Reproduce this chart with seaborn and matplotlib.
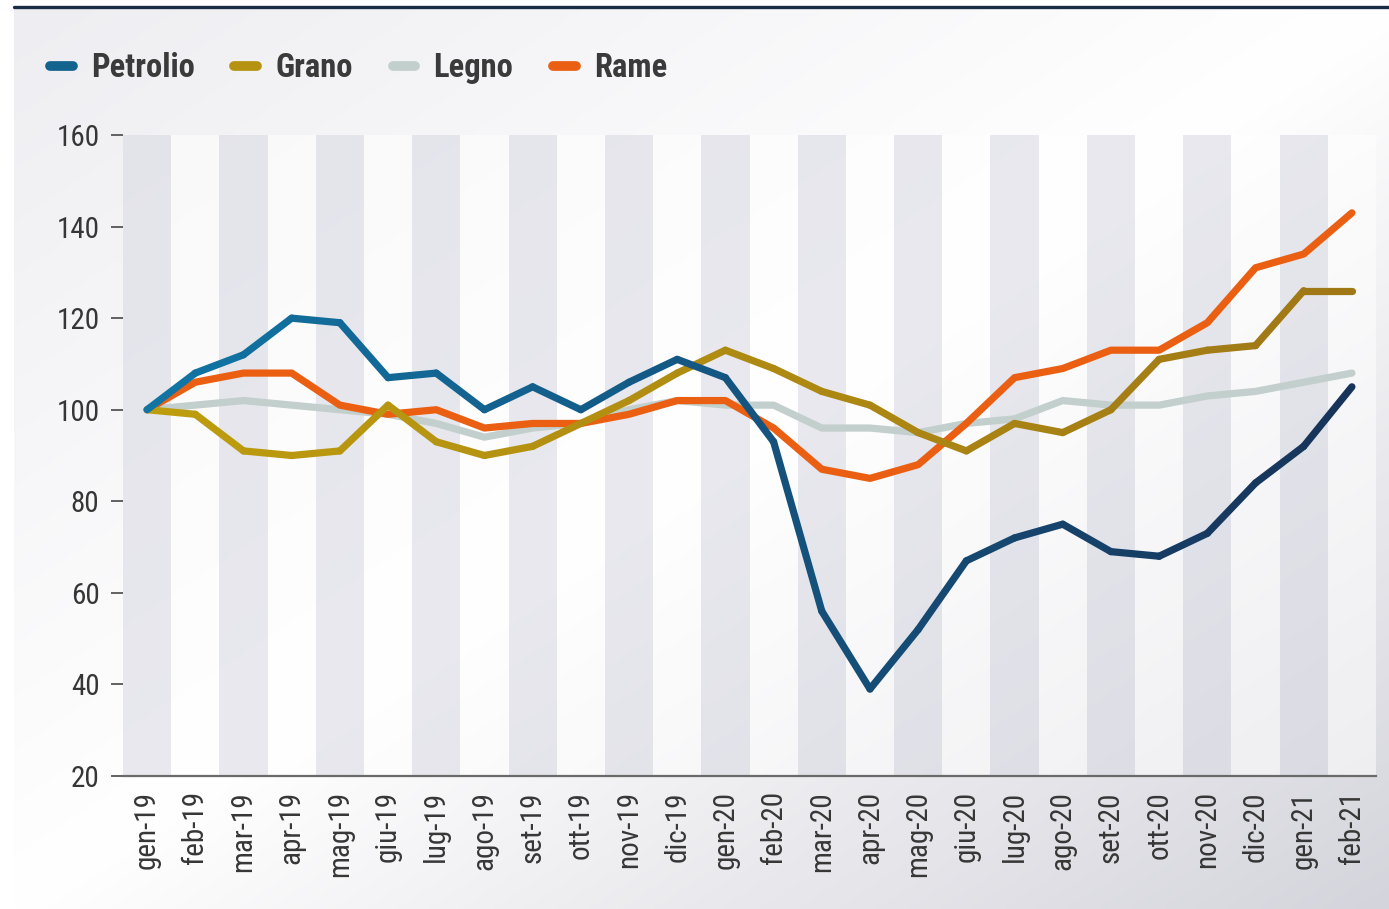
import matplotlib

matplotlib.use("Agg")

import matplotlib.pyplot as plt
import numpy as np
import pandas as pd
import seaborn as sns
from matplotlib import font_manager
from matplotlib.collections import LineCollection
from matplotlib.colors import LinearSegmentedColormap, to_rgb
from matplotlib.lines import Line2D


MESI = [
    "gen-19", "feb-19", "mar-19", "apr-19", "mag-19", "giu-19", "lug-19",
    "ago-19", "set-19", "ott-19", "nov-19", "dic-19", "gen-20", "feb-20",
    "mar-20", "apr-20", "mag-20", "giu-20", "lug-20", "ago-20", "set-20",
    "ott-20", "nov-20", "dic-20", "gen-21", "feb-21",
]
PETROLIO = [100, 108, 112, 120, 119, 107, 108, 100, 105, 100, 106, 111, 107,
            93, 56, 39, 52, 67, 72, 75, 69, 68, 73, 84, 92, 105]
GRANO = [100, 99, 91, 90, 91, 101, 93, 90, 92, 97, 102, 108, 113,
         109, 104, 101, 95, 91, 97, 95, 100, 111, 113, 114, 126, 126]
LEGNO = [100, 101, 102, 101, 100, 99, 97, 94, 96, 97, 100, 102, 101,
         101, 96, 96, 95, 97, 98, 102, 101, 101, 103, 104, 106, 108]
RAME = [100, 106, 108, 108, 101, 99, 100, 96, 97, 97, 99, 102, 102,
        96, 87, 85, 88, 97, 107, 109, 113, 113, 119, 131, 134, 143]
SERIE = ["Petrolio", "Grano", "Legno", "Rame"]
Y_TICKS = [20, 40, 60, 80, 100, 120, 140, 160]

COLORI = {"Petrolio": "#14628e", "Grano": "#b5920f", "Legno": "#c2cfcc", "Rame": "#ea5f12"}
GRADIENTI = {"Petrolio": ("#1174a3", "#17345a"), "Grano": ("#bd9c0e", "#a07916")}
ORDINE = ["Legno", "Rame", "Grano", "Petrolio"]

W, H = 1389, 909


def scegli_font():
    """Cerca un carattere stretto tra quelli installati."""
    fonts = font_manager.fontManager.ttflist
    names = {f.name for f in fonts}
    for fam in ["Roboto Condensed", "Liberation Sans Narrow", "Open Sans Condensed",
                "Noto Sans Condensed", "DejaVu Sans Condensed"]:
        if fam in names:
            return fam, "normal"
    for f in fonts:
        if f.stretch in ("condensed", "semi-condensed", "extra-condensed") and "Mono" not in f.name:
            return f.name, f.stretch
    return "Roboto", "normal"


def sfondo(fig):
    """Pannello con sfumatura diagonale chiaro/bianco/grigio."""
    bg = fig.add_axes([14 / W, 0, 1 - 14 / W, 1 - 9 / H], zorder=-5)
    u = np.linspace(0, 1, 400)[None, :]
    v = np.linspace(0, 1, 300)[:, None]
    t = (u + v) / 2
    tl, wh, br = np.array(to_rgb("#eeeef2")), np.ones(3), np.array(to_rgb("#d4d4dc"))
    a = np.clip(t / 0.5, 0, 1)[..., None]
    b = np.clip((t - 0.5) / 0.5, 0, 1)[..., None]
    img = np.where(t[..., None] < 0.5, tl + (wh - tl) * a, wh + (br - wh) * b)
    bg.imshow(img, aspect="auto", extent=(0, 1, 0, 1), interpolation="bilinear")
    bg.set_axis_off()
    fig.add_artist(Line2D([14 / W, 1], [1 - 7 / H] * 2, color="#1b2d44", lw=2.4))


def main():
    sns.set_theme(style="white")
    fam, stretch = scegli_font()
    plt.rcParams["font.family"] = [fam, "DejaVu Sans"]
    plt.rcParams["font.stretch"] = stretch

    pos = np.arange(len(MESI))
    valori = {"Petrolio": PETROLIO, "Grano": GRANO, "Legno": LEGNO, "Rame": RAME}
    df = pd.concat(
        [pd.DataFrame({"pos": pos, "mese": MESI, "valore": valori[s], "serie": s}) for s in SERIE],
        ignore_index=True,
    )

    fig = plt.figure(figsize=(W / 100, H / 100), dpi=100)
    fig.patch.set_facecolor("white")
    sfondo(fig)

    ax = fig.add_axes([123 / W, 1 - 776 / H, 1253 / W, 641 / H])
    ax.patch.set_alpha(0)

    # bande verticali alternate
    for i in pos:
        if i % 2 == 0:
            ax.axvspan(i - 0.5, i + 0.5, color="#dadae4", alpha=0.6, lw=0, zorder=0)
        else:
            ax.axvspan(i - 0.5, i + 0.5, color="white", alpha=0.55, lw=0, zorder=0)

    for nome in ORDINE:
        sub = df[df["serie"] == nome]
        sns.lineplot(data=sub, x="pos", y="valore", color=COLORI[nome], lw=5.2,
                     ax=ax, legend=False, sort=False, zorder=3)
        line = ax.lines[-1]
        line.set_solid_capstyle("round")
        line.set_solid_joinstyle("round")
        if nome in GRADIENTI:
            # stessa linea, ma colorata a tratti con una sfumatura
            xy = line.get_xydata()
            seg = np.stack([xy[:-1], xy[1:]], axis=1)
            cmap = LinearSegmentedColormap.from_list(nome, GRADIENTI[nome])
            t = np.linspace(0, 1, len(seg))
            lc = LineCollection(seg, colors=cmap(t), linewidths=5.2, capstyle="round",
                                joinstyle="round", zorder=3)
            ax.add_collection(lc)
            line.remove()

    ax.set_xlim(-0.5, len(MESI) - 0.5)
    ax.set_ylim(Y_TICKS[0], Y_TICKS[-1])
    ax.set_xlabel("")
    ax.set_ylabel("")
    for s in ["left", "top", "right"]:
        ax.spines[s].set_visible(False)
    ax.spines["bottom"].set_color("#6a6a6a")
    ax.spines["bottom"].set_linewidth(1.6)

    ax.set_xticks(pos)
    ax.set_xticklabels(MESI, rotation=90, fontsize=21, color="#363636")
    ax.set_xticks(np.arange(-0.5, len(MESI)), minor=True)
    ax.tick_params(axis="x", which="major", length=0, pad=11)
    ax.tick_params(axis="x", which="minor", length=9, width=1.6, color="#6a6a6a", direction="out")
    ax.set_yticks(Y_TICKS)
    ax.set_yticklabels([str(v) for v in Y_TICKS], fontsize=21, color="#363636")
    ax.tick_params(axis="y", length=9, width=1.3, color="#555555", pad=8, left=True)

    handles = [Line2D([0], [0], color=COLORI[s], lw=7, solid_capstyle="round") for s in SERIE]
    fig.legend(handles, SERIE, loc="center left", bbox_to_anchor=(50 / W, 1 - 68 / H),
               ncol=4, frameon=False, borderaxespad=0, borderpad=0,
               handlelength=0.7, handletextpad=0.55, columnspacing=1.22,
               prop={"size": 23.5, "weight": "bold"}, labelcolor="#3a3a3a")

    fig.savefig("out.png", dpi=100)
    plt.close(fig)


if __name__ == "__main__":
    main()
